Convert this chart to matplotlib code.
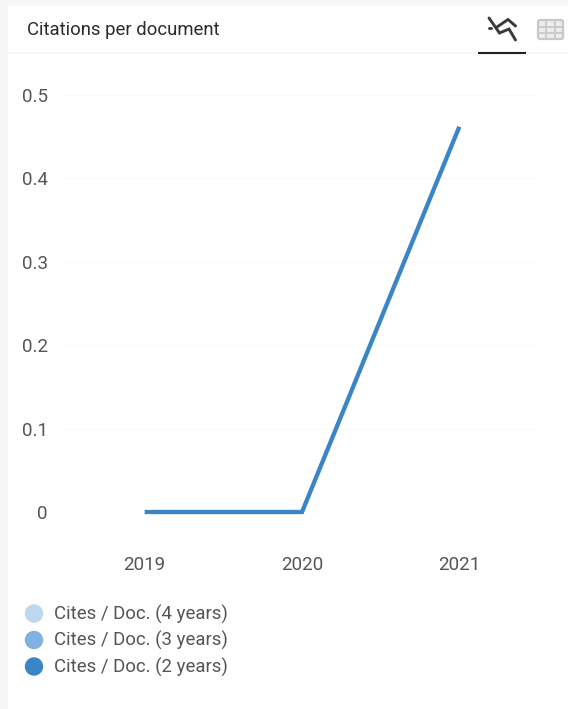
import matplotlib
matplotlib.use("Agg")
import matplotlib.pyplot as plt
from matplotlib.patches import Circle, FancyBboxPatch, Rectangle

plt.rcParams['font.family'] = ['Roboto', 'DejaVu Sans']

W, H = 568, 709

years = [2019, 2020, 2021]
cites_2y = [0, 0, 0.462]
y_ticks = [0, 0.1, 0.2, 0.3, 0.4, 0.5]
y_labels = ['0', '0.1', '0.2', '0.3', '0.4', '0.5']
title = 'Citations per document'
legend_labels = ['Cites / Doc. (4 years)', 'Cites / Doc. (3 years)', 'Cites / Doc. (2 years)']
legend_colors = ['#bdd7ee', '#7fb2e0', '#3a85c6']

fig = plt.figure(figsize=(W / 100, H / 100), dpi=100, facecolor='#f7f7f7')

# Pixel-space layer for the card, header and legend
page = fig.add_axes([0, 0, 1, 1])
page.set_xlim(0, W)
page.set_ylim(H, 0)
page.axis('off')
page.add_patch(Rectangle((8, 6), W - 8, H - 6, fc='white', ec='none'))
page.plot([8, W], [52.5, 52.5], color='#f5f5f5', lw=1.2)
page.plot([478, 526], [52.8, 52.8], color='#222222', lw=1.5, solid_capstyle='butt')
page.text(27, 30, title, fontsize=13.35, color='#2b2b2b', va='center', ha='left')

# Line-chart tab icon
icon_kw = dict(color='#3a3a3a', lw=2.1, solid_capstyle='round', solid_joinstyle='miter')
page.plot([489, 499.5, 509, 515.5], [18, 33, 29, 40], **icon_kw)
page.plot([497, 508, 515.5], [27, 19.5, 26], **icon_kw)
page.plot([489, 491], [28, 28], **icon_kw)

# Table tab icon
page.add_patch(FancyBboxPatch((538, 20), 25, 19, boxstyle='round,pad=0,rounding_size=2',
                              fc='#ececec', ec='#c8c8c8', lw=1.6))
for gx in (546, 554.5):
    page.plot([gx, gx], [20, 39], color='#c8c8c8', lw=1.3)
for gy in (26.5, 33):
    page.plot([538, 563], [gy, gy], color='#c8c8c8', lw=1.3)

# Legend
for ypos, label, color in zip((613.5, 640, 666.5), legend_labels, legend_colors):
    page.add_patch(Circle((34, ypos), 9.2, fc=color, ec='none'))
    page.text(54.5, ypos + 0.8, label, fontsize=13.4, color='#555555', va='center', ha='left')

# Plot area
left, right, top, bottom = 66, 538, 95, 512
ax = fig.add_axes([left / W, 1 - bottom / H, (right - left) / W, (bottom - top) / H])
ax.patch.set_alpha(0)
ax.set_xlim(2018.5, 2021.5)
ax.set_ylim(0, 0.5)
for spine in ax.spines.values():
    spine.set_visible(False)
ax.set_xticks(years)
ax.set_xticklabels([str(y) for y in years])
ax.set_yticks(y_ticks)
ax.set_yticklabels(y_labels)
ax.tick_params(axis='both', length=0, labelsize=13.5, labelcolor='#555555')
ax.tick_params(axis='x', pad=31.7)
ax.tick_params(axis='y', pad=13)
ax.grid(axis='y', color='#f4f4f4', lw=0.8, ls=(0, (1.5, 2)))
ax.set_axisbelow(True)
ax.plot(years, cites_2y, color=legend_colors[2], lw=3.1, clip_on=False,
        solid_capstyle='butt', solid_joinstyle='miter')

fig.savefig('out.png', dpi=100, facecolor=fig.get_facecolor())
